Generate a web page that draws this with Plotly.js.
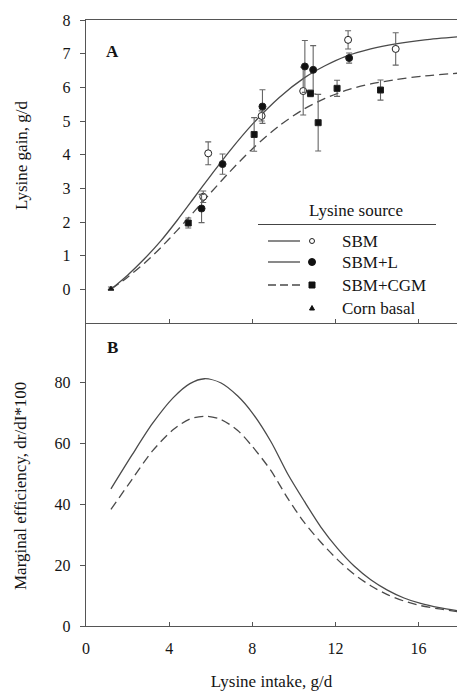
<!DOCTYPE html>
<html>
<head>
<meta charset="utf-8">
<script src="https://cdn.plot.ly/plotly-3.0.1.min.js"></script>
<style>html,body{margin:0;padding:0;background:#fff;}#chart{width:457px;height:692px;}</style>
</head>
<body>
<div id="chart"></div>
<script>
// ---------- Data ----------
// Panel A: lysine gain (g/d) vs lysine intake (g/d)
const sbmX = [5.64, 5.88, 8.45, 10.45, 12.61, 14.90];
const sbmY = [2.75, 4.04, 5.15, 5.89, 7.41, 7.14];
const sbmErr = [0.17, 0.34, 0.15, 0.71, 0.27, 0.48];

const sbmLX = [5.56, 6.57, 8.49, 10.53, 10.93, 12.66];
const sbmLY = [2.40, 3.72, 5.43, 6.62, 6.52, 6.87];
const sbmLErr = [0.42, 0.30, 0.50, 0.77, 0.72, 0.15];

const sbmCgmX = [4.92, 8.09, 10.80, 11.17, 12.08, 14.17];
const sbmCgmY = [1.97, 4.60, 5.82, 4.95, 5.97, 5.92];
const sbmCgmErr = [0.15, 0.50, 0.10, 0.84, 0.24, 0.30];

const cornX = [1.2];
const cornY = [0.02];
const cornErr = [0.05];

// fitted curves, panel A
const fitSolidX = [1.2, 2.0, 2.8, 3.6, 4.4, 5.2, 6.0, 6.9, 8.0, 9.3, 10.5, 11.5, 12.5, 13.7, 14.9, 16.3, 17.9];
const fitSolidY = [0.0, 0.42, 0.90, 1.44, 2.06, 2.72, 3.38, 4.10, 4.90, 5.70, 6.28, 6.64, 6.92, 7.14, 7.29, 7.41, 7.50];
const fitDashX = [1.2, 2.0, 2.8, 3.6, 4.4, 5.2, 6.0, 6.9, 8.0, 9.3, 10.5, 11.5, 12.5, 13.7, 14.9, 16.3, 17.9];
const fitDashY = [0.0, 0.36, 0.77, 1.24, 1.76, 2.31, 2.87, 3.48, 4.17, 4.86, 5.36, 5.67, 5.91, 6.10, 6.23, 6.34, 6.42];

// Panel B: marginal efficiency
const effSolidX = [1.2, 2.2, 3.2, 4.2, 5.0, 5.7, 6.5, 7.3, 8.0, 8.9, 9.7, 10.5, 11.3, 12.1, 12.9, 13.7, 14.5, 15.3, 16.1, 17.0, 17.9];
const effSolidY = [45.0, 56.0, 66.5, 75.0, 79.6, 81.2, 79.8, 75.5, 70.0, 60.5, 50.0, 41.0, 32.5, 25.5, 19.7, 15.2, 11.8, 9.2, 7.4, 6.0, 5.0];
const effDashX = [1.2, 2.2, 3.2, 4.2, 5.0, 5.8, 6.5, 7.3, 8.0, 8.9, 9.7, 10.5, 11.3, 12.1, 12.9, 13.7, 14.5, 15.3, 16.1, 17.0, 17.9];
const effDashY = [38.3, 48.0, 57.5, 64.5, 68.0, 68.9, 67.8, 64.2, 59.0, 51.0, 42.0, 34.0, 27.5, 21.8, 17.0, 13.2, 10.3, 8.2, 6.7, 5.6, 4.7];

const xTickVals = [0, 4, 8, 12, 16];
const yTopTicks = [0, 1, 2, 3, 4, 5, 6, 7, 8];
const yBotTicks = [0, 20, 40, 60, 80];
const legendNames = ['SBM', 'SBM+L', 'SBM+CGM', 'Corn basal'];

// ---------- Styling ----------
const FONT = 'Liberation Serif, Times New Roman, serif';
const TXT = '#141414';
const LINE = '#4a4a4a';
const AX = '#555';
const ERR = '#666';

function pts(x, y, err, symbol, fill, size) {
  return {
    x: x, y: y, xaxis: 'x2', yaxis: 'y2', type: 'scatter', mode: 'markers',
    error_y: {type: 'data', array: err, visible: true, color: ERR, thickness: 1.1, width: 3},
    marker: {symbol: symbol, size: size, color: fill, line: {color: '#222', width: 1}},
    showlegend: false, hoverinfo: 'x+y'
  };
}

const traces = [
  {x: fitSolidX, y: fitSolidY, xaxis: 'x2', yaxis: 'y2', type: 'scatter', mode: 'lines',
   line: {color: LINE, width: 1.3, shape: 'spline', smoothing: 0.8}, showlegend: false},
  {x: fitDashX, y: fitDashY, xaxis: 'x2', yaxis: 'y2', type: 'scatter', mode: 'lines',
   line: {color: LINE, width: 1.3, dash: '9px,5px', shape: 'spline', smoothing: 0.8}, showlegend: false},
  pts(sbmX, sbmY, sbmErr, 'circle', '#fff', 7),
  pts(sbmLX, sbmLY, sbmLErr, 'circle', '#111', 7),
  pts(sbmCgmX, sbmCgmY, sbmCgmErr, 'square', '#111', 6),
  pts(cornX, cornY, cornErr, 'triangle-up', '#111', 5),
  {x: effSolidX, y: effSolidY, xaxis: 'x', yaxis: 'y', type: 'scatter', mode: 'lines',
   line: {color: LINE, width: 1.3, shape: 'spline', smoothing: 0.8}, showlegend: false},
  {x: effDashX, y: effDashY, xaxis: 'x', yaxis: 'y', type: 'scatter', mode: 'lines',
   line: {color: LINE, width: 1.3, dash: '9px,5px', shape: 'spline', smoothing: 0.8}, showlegend: false}
];

// pixel -> paper helpers for the hand-drawn legend / labels (plot area: x 86..457, y 20..626)
const PL = 86, PR = 457, PT = 20, PB = 626;
const px = v => (v - PL) / (PR - PL);
const py = v => (PB - v) / (PB - PT);

const tickFont = {family: FONT, size: 16, color: TXT};

const legendRowsY = [241, 262, 285, 308];
const shapes = [
  // legend underline
  {type: 'line', xref: 'paper', yref: 'paper', x0: px(258), x1: px(436), y0: py(224.5), y1: py(224.5), line: {color: '#444', width: 1.2}},
  // legend line samples
  {type: 'line', xref: 'paper', yref: 'paper', x0: px(268), x1: px(300), y0: py(legendRowsY[0]), y1: py(legendRowsY[0]), line: {color: LINE, width: 1.3}},
  {type: 'line', xref: 'paper', yref: 'paper', x0: px(268), x1: px(300), y0: py(legendRowsY[1]), y1: py(legendRowsY[1]), line: {color: LINE, width: 1.3}},
  {type: 'line', xref: 'paper', yref: 'paper', x0: px(268), x1: px(302), y0: py(legendRowsY[2]), y1: py(legendRowsY[2]), line: {color: LINE, width: 1.3, dash: '8px,4px'}},
  // legend markers
  {type: 'circle', xref: 'paper', yref: 'paper', x0: px(309.5), x1: px(314.5), y0: py(legendRowsY[0] + 2.5), y1: py(legendRowsY[0] - 2.5), line: {color: '#222', width: 1}, fillcolor: '#fff'},
  {type: 'circle', xref: 'paper', yref: 'paper', x0: px(308.5), x1: px(315.5), y0: py(legendRowsY[1] + 3.5), y1: py(legendRowsY[1] - 3.5), line: {color: '#111', width: 1}, fillcolor: '#111'},
  {type: 'rect', xref: 'paper', yref: 'paper', x0: px(309), x1: px(315), y0: py(legendRowsY[2] + 3), y1: py(legendRowsY[2] - 3), line: {color: '#111', width: 1}, fillcolor: '#111'},
  {type: 'path', xref: 'paper', yref: 'paper',
   path: 'M ' + px(309.5) + ' ' + py(legendRowsY[3] + 2) + ' L ' + px(314.5) + ' ' + py(legendRowsY[3] + 2) + ' L ' + px(312) + ' ' + py(legendRowsY[3] - 2.5) + ' Z',
   line: {color: '#111', width: 1}, fillcolor: '#111'}
];

const annotations = [
  {text: 'Lysine gain, g/d', xref: 'paper', yref: 'paper', x: px(22), y: py(155), textangle: -90, showarrow: false,
   xanchor: 'center', yanchor: 'middle', font: {family: FONT, size: 17, color: TXT}},
  {text: 'Marginal efficiency, dr/dI*100', xref: 'paper', yref: 'paper', x: px(20), y: py(486), textangle: -90, showarrow: false,
   xanchor: 'center', yanchor: 'middle', font: {family: FONT, size: 17, color: TXT}},
  {text: '<b>A</b>', xref: 'paper', yref: 'paper', x: px(112), y: py(52), showarrow: false, xanchor: 'center', yanchor: 'middle',
   font: {family: FONT, size: 17, color: TXT}},
  {text: '<b>B</b>', xref: 'paper', yref: 'paper', x: px(112), y: py(347), showarrow: false, xanchor: 'center', yanchor: 'middle',
   font: {family: FONT, size: 17, color: TXT}},
  {text: 'Lysine source', xref: 'paper', yref: 'paper', x: px(355.5), y: py(210), showarrow: false, xanchor: 'center', yanchor: 'middle',
   font: {family: FONT, size: 17, color: TXT}}
];
legendNames.forEach((n, i) => {
  annotations.push({text: n, xref: 'paper', yref: 'paper', x: px(340), y: py(legendRowsY[i]), showarrow: false,
    xanchor: 'left', yanchor: 'middle', font: {family: FONT, size: 17, color: TXT}});
});

const layout = {
  width: 457, height: 692,
  margin: {l: 86, r: 0, t: 20, b: 66, pad: 0},
  paper_bgcolor: '#fff', plot_bgcolor: '#fff',
  showlegend: false,
  font: {family: FONT, color: TXT},
  xaxis: {
    domain: [0, 1], anchor: 'y', range: [0, 17.85], tickvals: xTickVals,
    ticks: 'inside', ticklen: 4, tickcolor: AX, showline: true, linecolor: AX, linewidth: 1.3,
    showgrid: false, zeroline: false, tickfont: tickFont, ticklabelstandoff: 7,
    title: {text: 'Lysine intake, g/d', font: {family: FONT, size: 17, color: TXT}, standoff: 19}
  },
  yaxis: {
    domain: [0, 0.5], anchor: 'x', range: [0, 99.5], tickvals: yBotTicks,
    ticks: 'outside', ticklen: 5, tickcolor: AX, showline: true, linecolor: AX, linewidth: 1.3,
    showgrid: false, zeroline: false, tickfont: tickFont, ticklabelstandoff: 6
  },
  xaxis2: {
    domain: [0, 1], anchor: 'y2', matches: 'x', range: [0, 17.85], tickvals: xTickVals,
    ticks: 'inside', ticklen: 4, tickcolor: AX, showline: true, mirror: true, linecolor: AX, linewidth: 1.3,
    showgrid: false, zeroline: false, showticklabels: false
  },
  yaxis2: {
    domain: [0.5, 1], anchor: 'x2', range: [-1, 8], tickvals: yTopTicks,
    ticks: 'outside', ticklen: 5, tickcolor: AX, showline: true, linecolor: AX, linewidth: 1.3,
    showgrid: false, zeroline: false, tickfont: tickFont, ticklabelstandoff: 6
  },
  shapes: shapes,
  annotations: annotations
};

Plotly.newPlot('chart', traces, layout, {staticPlot: true, displayModeBar: false});
</script>
</body>
</html>
